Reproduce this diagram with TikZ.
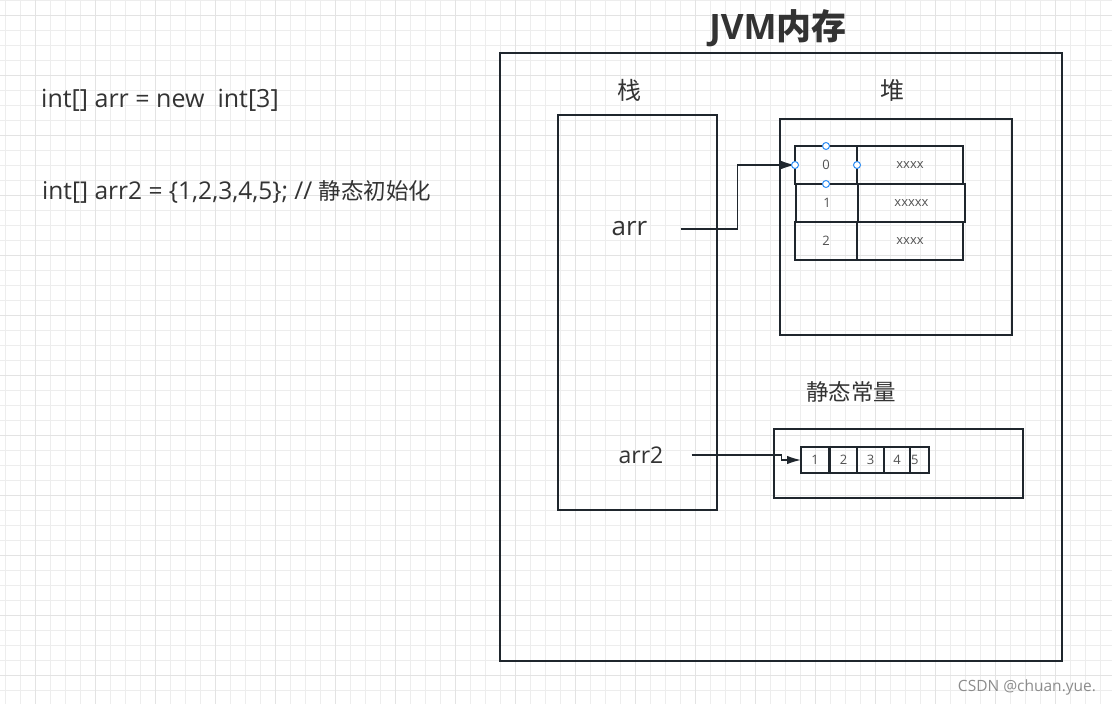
\documentclass[tikz,border=0pt]{standalone}
\usepackage{fontspec}
\setmainfont{Open Sans}
\newfontfamily\cjk{Noto Sans CJK SC}
\usetikzlibrary{arrows.meta, positioning}
\definecolor{ink}{HTML}{1F262D}
\definecolor{txt}{HTML}{333333}
\definecolor{handle}{HTML}{2C8CF4}
\begin{document}
\begin{tikzpicture}[x=1pt, y=-1pt]
      \tikzstyle{box} = [draw=ink, line width=1.6pt, inner sep=0pt, outer sep=0pt, anchor=north west]
      \tikzstyle{cell} = [box, text=txt!85, font=\fontsize{13}{15}\selectfont]
      \tikzstyle{label} = [text=txt, inner sep=0pt]
      \tikzstyle{connect} = [-{Latex[length=14pt, width=8.5pt]}, draw=ink, line width=1.4pt]
      \tikzstyle{grip} = [circle, draw=handle, fill=white, line width=1pt, inner sep=0pt, minimum size=7pt]
      % background grid
      \useasboundingbox (0,0) rectangle (1112,704);
      \fill[white] (0,0) rectangle (1112,704);
      \foreach \x in {5,20,...,1110} \draw[black!7, line width=0.8pt] (\x,0) -- (\x,704);
      \foreach \y in {0,15,...,704} \draw[black!7, line width=0.8pt] (0,\y) -- (1112,\y);
      \foreach \x in {35,95,...,1110} \draw[black!11, line width=1pt] (\x,0) -- (\x,704);
      \foreach \y in {15,75,...,704} \draw[black!11, line width=1pt] (0,\y) -- (1112,\y);
      % code on the left
      \node[label, anchor=west, font=\fontsize{25}{28}\selectfont] (code1) at (41,100) {int[] arr = new\ \ int[3]};
      \node[label, anchor=west, font=\fontsize{24.5}{28}\selectfont] (code2) at (42,192) {int[] arr2 = \{1,2,3,4,5\}; // {\cjk\fontsize{22.5}{26}\selectfont 静态初始化}};
      % memory
      \node[label, font=\bfseries\fontsize{35}{38}\selectfont] (title) at (778,28) {JVM{\cjk\bfseries 内存}};
      \node[box, minimum width=562pt, minimum height=608pt] (jvm) at (500,53) {};
      \node[label, font=\cjk\fontsize{24}{28}\selectfont] (stacklbl) at (629,90) {栈};
      \node[box, minimum width=159pt, minimum height=395pt] (stack) at (558,115) {};
      \node[label, font=\cjk\fontsize{24}{28}\selectfont] (heaplbl) at (892,90) {堆};
      \node[box, minimum width=232pt, minimum height=216pt] (heap) at (780,119) {};
      \node[label, font=\cjk\fontsize{22.5}{26}\selectfont] (poollbl) at (851,392) {静态常量};
      \node[box, minimum width=249pt, minimum height=69pt] (pool) at (774,429) {};
      % heap array
      \node[cell, minimum width=62pt, minimum height=38pt] (c0) at (795,146) {0};
      \node[cell, minimum width=106pt, minimum height=38pt] (v0) at (857,146) {xxxx};
      \node[cell, minimum width=62pt, minimum height=38pt] (c1) at (796,184) {1};
      \node[cell, minimum width=107pt, minimum height=38pt] (v1) at (858,184) {xxxxx};
      \node[cell, minimum width=62pt, minimum height=38pt] (c2) at (795,222) {2};
      \node[cell, minimum width=106pt, minimum height=38pt] (v2) at (857,222) {xxxx};
      % constant array
      \node[cell, minimum width=28pt, minimum height=26pt] (k1) at (801,447) {1};
      \node[cell, minimum width=27pt, minimum height=26pt] (k2) at (830,447) {2};
      \node[cell, minimum width=27pt, minimum height=26pt] (k3) at (857,447) {3};
      \node[cell, minimum width=26pt, minimum height=26pt] (k4) at (884,447) {4};
      \node[cell, minimum width=19pt, minimum height=26pt, text width=17pt, align=left] (k5) at (910,447) {5};
      % references
      \node[label, font=\fontsize{26}{30}\selectfont] (arr) at (629.5,229) {arr};
      \node[label, font=\fontsize{23}{27}\selectfont] (arr2) at (641,455) {arr2};
      \draw[connect] (arr.east) ++(33,0) -- ++(57,0) |- (c0.west);
      \draw[connect] (arr2.east) ++(28,0) -- ++(90,0) |- (k1.west);
      % selection handles
      \foreach \a in {north, west, east, south} \node[grip] at (c0.\a) {};
      % watermark
      \node[label, text=black!45, font=\fontsize{15.5}{18}\selectfont] (mark) at (1027,687) {CSDN @chuan.yue.};
    \end{tikzpicture}
\end{document}
